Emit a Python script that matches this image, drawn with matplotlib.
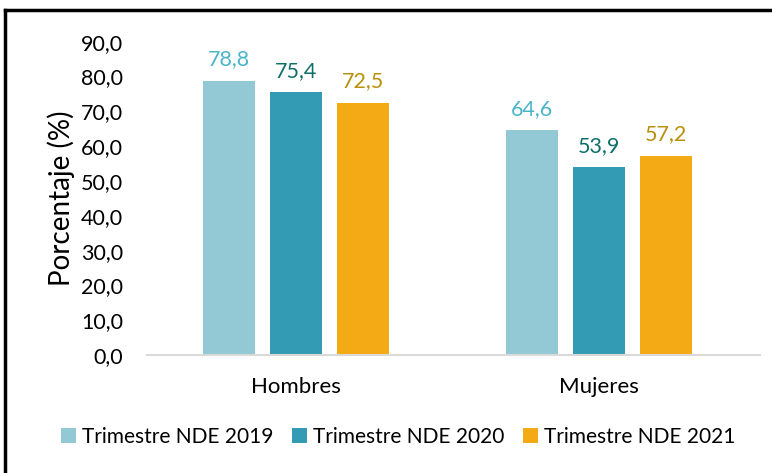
import matplotlib
matplotlib.use("Agg")
import matplotlib.pyplot as plt
from matplotlib.lines import Line2D
import numpy as np

categories = ["Hombres", "Mujeres"]
series_names = ["Trimestre NDE 2019", "Trimestre NDE 2020", "Trimestre NDE 2021"]
values_2019 = [78.8, 64.6]
values_2020 = [75.4, 53.9]
values_2021 = [72.5, 57.2]
yticks = [0, 10, 20, 30, 40, 50, 60, 70, 80, 90]

bar_colors = ["#92C9D4", "#349BB4", "#F4AA14"]
label_colors = ["#4BB5C8", "#0E6F6A", "#B8900A"]

plt.rcParams['font.family'] = ['Lato', 'DejaVu Sans']

fig = plt.figure(figsize=(7.72, 4.73), dpi=100)
ax = fig.add_axes([0.190, 0.249, 0.794, 0.663])

x = np.arange(len(categories))
width = 0.172
step = 0.221
all_vals = [values_2019, values_2020, values_2021]
for i, vals in enumerate(all_vals):
    pos = x + (i - 1) * step
    ax.bar(pos, vals, width=width, color=bar_colors[i], label=series_names[i], zorder=2)
    for p, v in zip(pos, vals):
        ax.text(p, v + 3.3, f"{v:.1f}".replace(".", ","), ha="center", va="bottom",
                fontsize=15.5, color=label_colors[i])

ax.set_xlim(-0.493, 1.53)
ax.set_ylim(0, 90)
ax.set_yticks(yticks)
ax.set_yticklabels([f"{t:.1f}".replace(".", ",") for t in yticks], fontsize=15.5)
ax.set_xticks(x)
ax.set_xticklabels(categories, fontsize=16)
ax.tick_params(length=0)
ax.tick_params(axis="y", pad=17)
ax.tick_params(axis="x", pad=16)
for s in ["top", "right", "left"]:
    ax.spines[s].set_visible(False)
ax.spines["bottom"].set_color("#D9D9D9")
ax.spines["bottom"].set_linewidth(1.5)
ax.set_ylabel("Porcentaje (%)", fontsize=20, labelpad=4)

fig.legend(loc="center", bbox_to_anchor=(0.516, 0.076), ncol=3, frameon=False,
           fontsize=15, handlelength=0.7, handleheight=0.7, handletextpad=0.3,
           columnspacing=0.9)

# outer frame (top and left only)
fig.add_artist(Line2D([0.007, 1.0], [0.979, 0.979], color="black", lw=2.5, transform=fig.transFigure))
fig.add_artist(Line2D([0.007, 0.007], [0.0, 0.979], color="black", lw=2.5, transform=fig.transFigure))

fig.savefig("out.png", dpi=100)
